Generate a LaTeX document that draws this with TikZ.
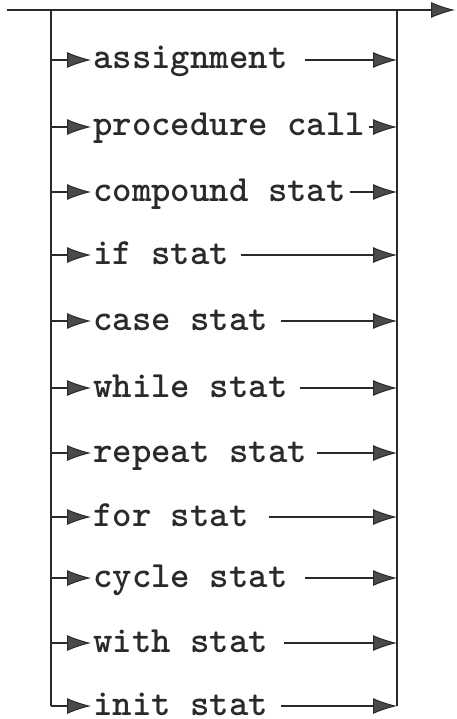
\documentclass[tikz,border=0pt]{standalone}
\usepackage{fontspec}
\usetikzlibrary{arrows.meta}
\definecolor{ink}{HTML}{2A2A2A}
\definecolor{tipfill}{HTML}{4A4A4A}
\tikzset{
  wire/.style={draw=ink, line width=2pt},
  arr/.style={wire, -{Latex[length=24pt,width=16pt,fill=tipfill,line width=1pt]}},
  label/.style={inner sep=0pt, anchor=base west, text=ink,
    font=\ttfamily\bfseries\fontsize{37}{40}\selectfont}
}
\begin{document}
\begin{tikzpicture}[x=1pt,y=-1pt]
\useasboundingbox (0,0) rectangle (456,719);
\coordinate (S) at (7,10);
\coordinate (TL) at (51,10);
\coordinate (TR) at (397,10);
\coordinate (E) at (455,10);
\coordinate (BL) at (51,706);
\coordinate (BR) at (397,706);
\draw[arr] (S) -- (E);
\draw[wire] (TL) -- (BL);
\draw[wire] (TR) -- (BR);
\foreach \i/\y/\g/\t in {
  1/60/17/assignment,
  2/127/4/procedure call,
  3/192/4/compound stat,
  4/255/12/if stat,
  5/321/13/case stat,
  6/388/12/while stat,
  7/453/10/repeat stat,
  8/517/20/for stat,
  9/578/17/cycle stat,
  10/643/16/with stat,
  11/706/13/init stat}{
  \coordinate (L\i) at (51,\y);
  \coordinate (R\i) at (397,\y);
  \node[label] (t\i) at (93,\y+9) {\t};
  \draw[arr] (L\i) -- ([xshift=-2pt]L\i -| t\i.west);
  \draw[arr] ([xshift=\g pt]R\i -| t\i.east) -- (R\i);
}
\end{tikzpicture}
\end{document}
